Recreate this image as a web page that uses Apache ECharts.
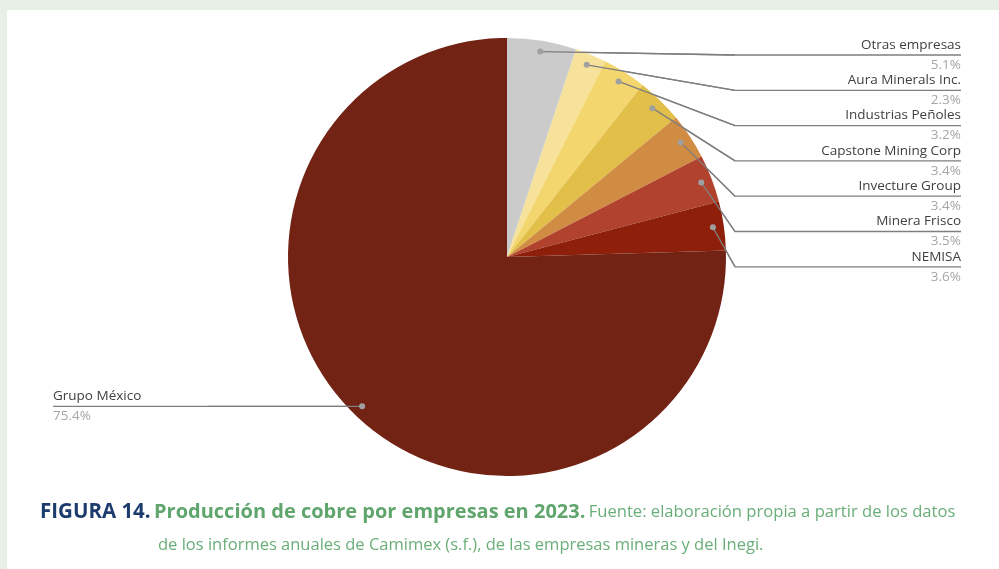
<!DOCTYPE html>
<html>
<head>
<meta charset="utf-8">
<script src="https://cdn.jsdelivr.net/npm/echarts@6/dist/echarts.min.js"></script>
<style>
html,body{margin:0;padding:0;background:#e8efe7;}
#c{width:999px;height:569px;}
</style>
</head>
<body>
<div id="c"></div>
<script>
// ---- data ----
const companies = ['Otras empresas','Aura Minerals Inc.','Industrias Peñoles','Capstone Mining Corp','Invecture Group','Minera Frisco','NEMISA','Grupo México'];
const shares = [5.1, 2.3, 3.2, 3.4, 3.4, 3.5, 3.6, 75.4];
const colors = ['#cbcbcb','#f7e29c','#f3d66e','#e2bf48','#d18c44','#b0422e','#8d1f0b','#722314'];

const captionLine1 = ['FIGURA 14.', 'Producción de cobre por empresas en 2023.', 'Fuente: elaboración propia a partir de los datos'];
const captionLine2 = 'de los informes anuales de Camimex (s.f.), de las empresas mineras y del Inegi.';

const chart = echarts.init(document.getElementById('c'), null, {renderer:'canvas'});

const FONT = '"Open Sans", "Noto Sans", sans-serif';
const CX = 507, CY = 257, R = 219;
const RIGHT_X = 961, BEND_X = 735, FIRST_Y = 55, STEP = 35.3;
const LEFT_X = 53;
const LINE_COLOR = '#7f7f7f';

function sliceMid(i, f) {
  const lay = chart.getModel().getSeriesByIndex(0).getData().getItemLayout(i);
  const m = (lay.startAngle + lay.endAngle) / 2;
  return [lay.cx + f * lay.r * Math.cos(m), lay.cy + f * lay.r * Math.sin(m)];
}
function leaderPoints(i) {
  const dot = sliceMid(i, 0.95);
  if (i === companies.length - 1) {
    return [dot, [(dot[0] + LEFT_X) / 2, dot[1]], [LEFT_X, dot[1]]];
  }
  const y = FIRST_Y + i * STEP;
  return [dot, [BEND_X, y], [RIGHT_X, y]];
}

const data = companies.map((n, i) => ({name: n, value: shares[i], itemStyle: {color: colors[i]}}));

const baseGraphic = [
  {type:'rect', left:7, top:10, shape:{width:992, height:559}, style:{fill:'#ffffff'}, z:-10, silent:true},
  {type:'text', left:40, top:502, z:10, style:{
    rich:{
      a:{fontFamily:FONT, fontSize:20.5, fontWeight:'bold', fill:'#1d3c6e'},
      b:{fontFamily:FONT, fontSize:20, fontWeight:'bold', fill:'#5fa56c'},
      c:{fontFamily:FONT, fontSize:16.6, fill:'#6aae79'}
    },
    text:'{a|' + captionLine1[0] + '} {b|' + captionLine1[1] + '} {c|' + captionLine1[2] + '}'
  }},
  {type:'text', left:158, top:537, z:10, style:{
    text: captionLine2, fontFamily:FONT, fontSize:16.5, fill:'#6aae79'
  }}
];

const option = {
  backgroundColor: '#e8efe7',
  animation: false,
  graphic: baseGraphic,
  series: [{
    type: 'pie',
    center: [CX, CY],
    radius: [0, R],
    startAngle: 90,
    clockwise: true,
    minAngle: 0,
    avoidLabelOverlap: false,
    data: data,
    label: {
      show: true,
      position: 'outside',
      formatter: p => '{n|' + p.name + '}\n{p|' + p.value.toFixed(1) + '%}',
      rich: {
        n: {fontFamily: FONT, fontSize: 13.5, color: '#404040', lineHeight: 20},
        p: {fontFamily: FONT, fontSize: 13.5, color: '#a6a6a6', lineHeight: 20}
      }
    },
    labelLine: {show: true, showAbove: true, lineStyle: {color: LINE_COLOR, width: 1.3}},
    labelLayout: function (params) {
      const i = params.dataIndex;
      const pts = leaderPoints(i);
      const last = pts[2];
      return {
        x: last[0], y: last[1],
        align: i === companies.length - 1 ? 'left' : 'right',
        verticalAlign: 'middle',
        labelLinePoints: pts
      };
    },
    emphasis: {disabled: true}
  }]
};

chart.setOption(option);

// leader segments over the slices and dots at their starts
const extras = [];
companies.forEach((n, i) => {
  const pts = leaderPoints(i);
  extras.push({type:'polyline', shape:{points: pts.slice(0, 2)}, style:{stroke: LINE_COLOR, lineWidth: 1.3, fill: null}, z:99, silent:true});
  extras.push({type:'circle', shape:{cx:pts[0][0], cy:pts[0][1], r:3}, style:{fill:'#a0a0a0'}, z:100, silent:true});
});
chart.setOption({graphic: baseGraphic.concat(extras)});
</script>
</body>
</html>
